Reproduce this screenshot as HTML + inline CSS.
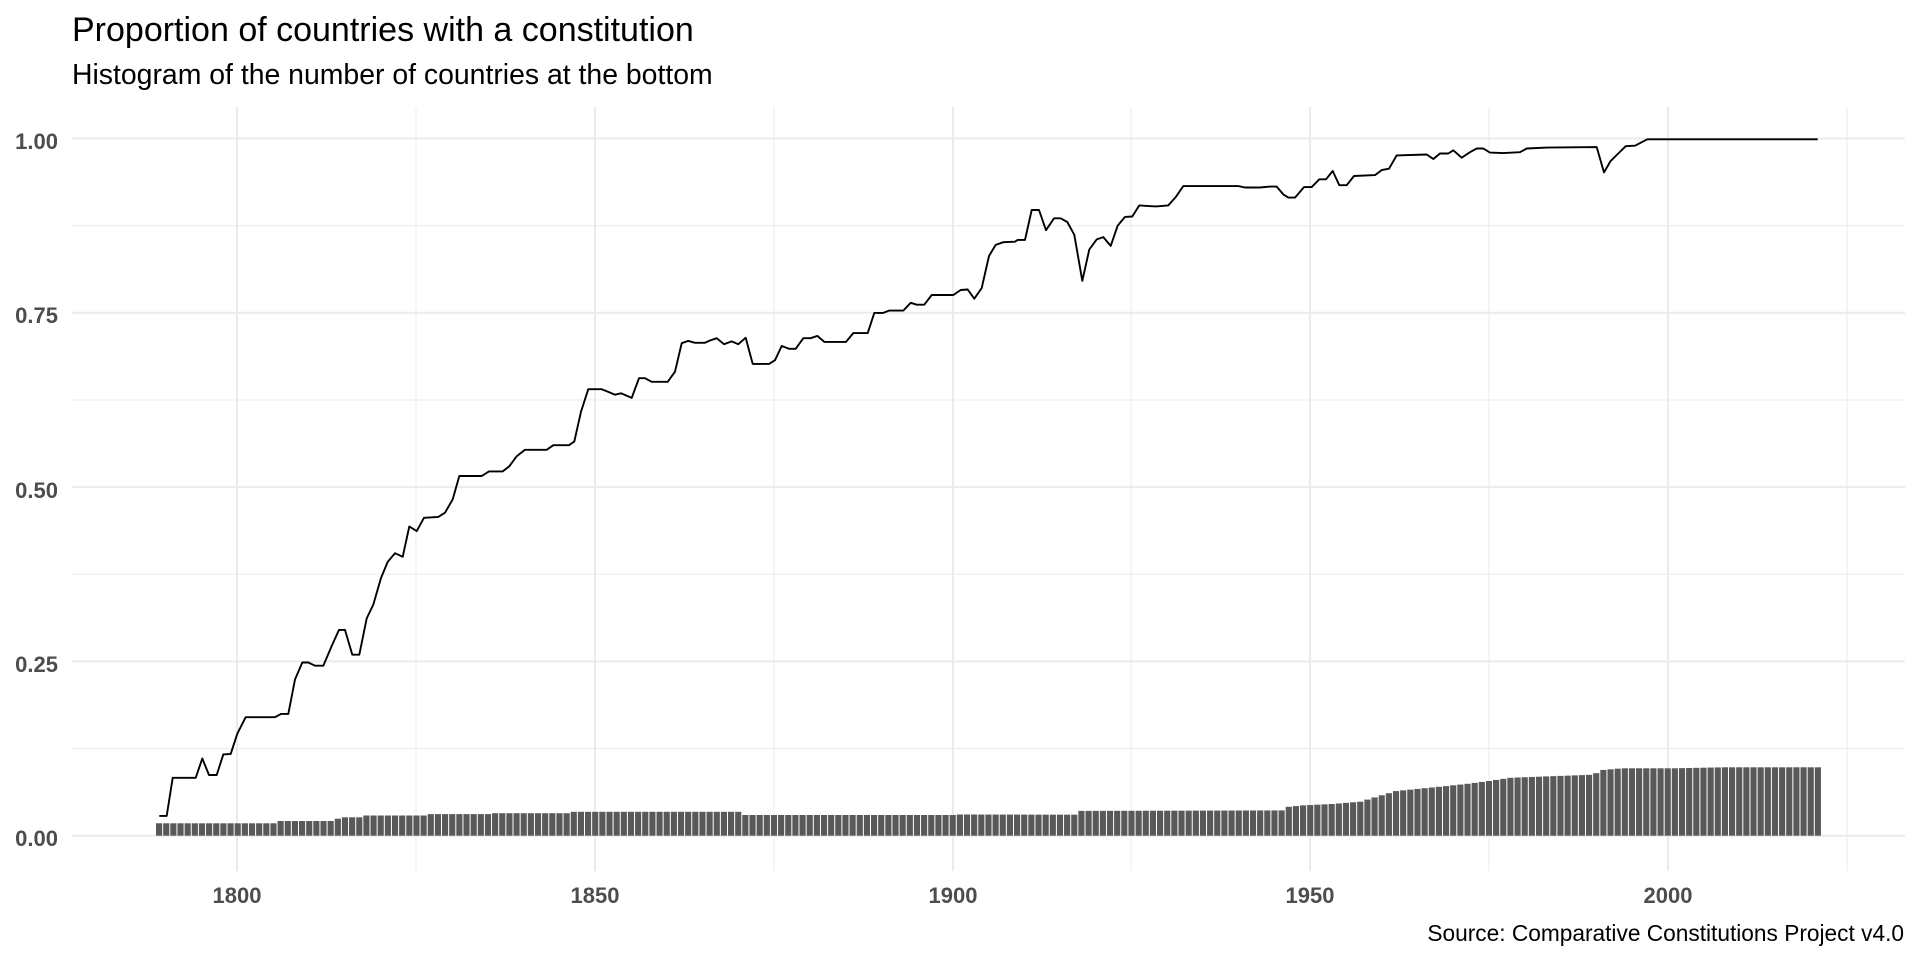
<!DOCTYPE html>
<html><head><meta charset="utf-8"><style>
html,body{margin:0;padding:0;background:#fff;width:1920px;height:960px;overflow:hidden}
svg{display:block}
text{font-family:"Liberation Sans",Arial,sans-serif}
</style></head><body>
<svg id="s" width="1920" height="960" xmlns="http://www.w3.org/2000/svg">
<g id="grid"></g>
<g id="bars" fill="#595959"></g>
<polyline id="line" fill="none" stroke="#000" stroke-width="1.9" stroke-linejoin="round"/>
<text x="72" y="41" font-size="34" fill="#000">Proportion of countries with a constitution</text>
<text x="72" y="84" font-size="28.4" fill="#000">Histogram of the number of countries at the bottom</text>
<g font-size="22" font-weight="bold" fill="#4d4d4d" text-anchor="end">
<text x="58" y="149">1.00</text>
<text x="58" y="323">0.75</text>
<text x="58" y="498">0.50</text>
<text x="58" y="672">0.25</text>
<text x="58" y="846">0.00</text>
</g>
<g font-size="22" font-weight="bold" fill="#4d4d4d" text-anchor="middle">
<text x="237" y="903">1800</text>
<text x="595" y="903">1850</text>
<text x="953" y="903">1900</text>
<text x="1310" y="903">1950</text>
<text x="1668" y="903">2000</text>
</g>
<text x="1904" y="941" font-size="22.7" fill="#000" text-anchor="end">Source: Comparative Constitutions Project v4.0</text>
</svg>
<script>
var NS="http://www.w3.org/2000/svg";
function el(p,t,a){var e=document.createElementNS(NS,t);for(var k in a)e.setAttribute(k,a[k]);p.appendChild(e);return e;}
var g=document.getElementById('grid');
var ys0=835.7,unit=697.2;
[0.125,0.375,0.625,0.875].forEach(function(v){var y=ys0-v*unit;el(g,'line',{x1:72,x2:1905,y1:y,y2:y,stroke:'#ebebeb','stroke-width':1});});
[416,774,1131,1489,1847].forEach(function(x){el(g,'line',{x1:x,x2:x,y1:107,y2:871,stroke:'#ebebeb','stroke-width':1});});
[0,0.25,0.5,0.75,1].forEach(function(v){var y=ys0-v*unit;el(g,'line',{x1:72,x2:1905,y1:y,y2:y,stroke:'#ebebeb','stroke-width':2});});
[237,595,953,1310,1668].forEach(function(x){el(g,'line',{x1:x,x2:x,y1:107,y2:871,stroke:'#ebebeb','stroke-width':2});});
function bh(y){
 var pts=[[1789,12.4],[1805,12.4],[1806,14.7],[1813,14.7],[1814,17],[1815,18.4],[1817,18.4],[1818,20.2],[1826,20.2],[1827,21.6],[1835,21.6],[1836,22.5],[1846,22.5],[1847,23.9],[1870,23.9],[1871,20.7],[1900,20.7],[1901,21.2],[1917,21],[1918,24.8],[1946,25.3],[1947,28.9],[1949,30.3],[1953,31.7],[1957,34],[1960,40.4],[1962,44.6],[1965,46.8],[1969,49.6],[1972,51.9],[1975,54.7],[1978,57.9],[1982.7,59.2],[1989.6,61],[1990.8,65.6],[1993.6,67.4],[2000.8,67.4],[2007.8,68.4],[2022,68.4]];
 for(var i=0;i<pts.length-1;i++){if(y>=pts[i][0]&&y<=pts[i+1][0]){var t=(y-pts[i][0])/((pts[i+1][0]-pts[i][0])||1);return pts[i][1]+t*(pts[i+1][1]-pts[i][1]);}}
 return 68.4;}
var b=document.getElementById('bars');
for(var i=0;i<233;i++){var x=156+i*7.15;var h=bh(1789+i);el(b,'rect',{x:x.toFixed(2),y:(835.7-h).toFixed(2),width:6.15,height:h.toFixed(2)});}
var Z=[
[150,[[28,1515],[50,1515],[68,1432],[137,1432],[157,1390],[177,1426],[200,1426],[220,1381],[242,1380],[262,1336],[287,1300],[375,1300],[393,1293],[415,1293],[435,1218],[457,1181],[475,1181],[495,1188],[520,1188],[545,1145],[567,1110],[585,1110],[607,1164],[628,1164],[650,1085],[670,1055],[693,997],[713,962],[735,943],[758,951],[778,885],[800,895],[822,866],[865,864],[885,855],[908,826],[928,775],[995,775],[1017,765],[1058,765],[1078,754],[1100,732],[1125,718],[1190,718],[1210,708],[1257,708],[1273,700],[1293,635],[1315,586],[1355,586],[1375,592],[1395,598],[1413,595]]],
[590,[[125,605],[147,562],[165,562],[185,570],[233,570],[255,548],[275,486],[295,481],[315,485],[345,485],[360,480],[380,475],[402,488],[425,482],[445,488],[467,474],[488,531],[537,531],[555,523],[575,492],[597,498],[617,498],[640,475],[662,475],[682,470],[703,483],[768,483],[790,464],[833,464],[853,420],[880,420],[897,415],[940,415],[962,398],[980,402],[1003,402],[1025,381],[1090,381],[1112,370],[1133,369],[1153,389],[1175,366],[1197,296],[1217,272],[1240,266],[1275,265],[1283,261],[1305,261],[1325,196],[1347,196],[1368,240],[1392,214],[1412,214],[1432,222]]],
[1050,[[73,250],[97,350],[118,282],[140,260],[160,255],[182,274],[203,230],[225,211],[247,210],[268,186],[290,187],[318,188],[355,186],[378,167],[400,144],[565,144],[585,147],[630,147],[660,145],[680,145],[700,162],[715,169],[735,169],[762,146],[785,146],[808,129],[828,129],[848,111],[868,142],[890,142],[912,122],[975,120],[995,109],[1017,106],[1040,77],[1130,75],[1150,85]]],
[1440,[[0,73],[25,73],[40,66],[65,82],[90,70],[110,62],[130,62],[150,71],[190,72],[240,70],[260,62],[320,60],[470,59],[492,114],[512,89],[535,73],[557,57],[585,56],[622,42],[1133,42]]]];
var P=[];
Z.forEach(function(z){z[1].forEach(function(p){P.push((z[0]+p[0]/3).toFixed(1)+','+(120+p[1]/2.177).toFixed(1));});});
document.getElementById('line').setAttribute('points',P.join(' '));
</script>
</body></html>
